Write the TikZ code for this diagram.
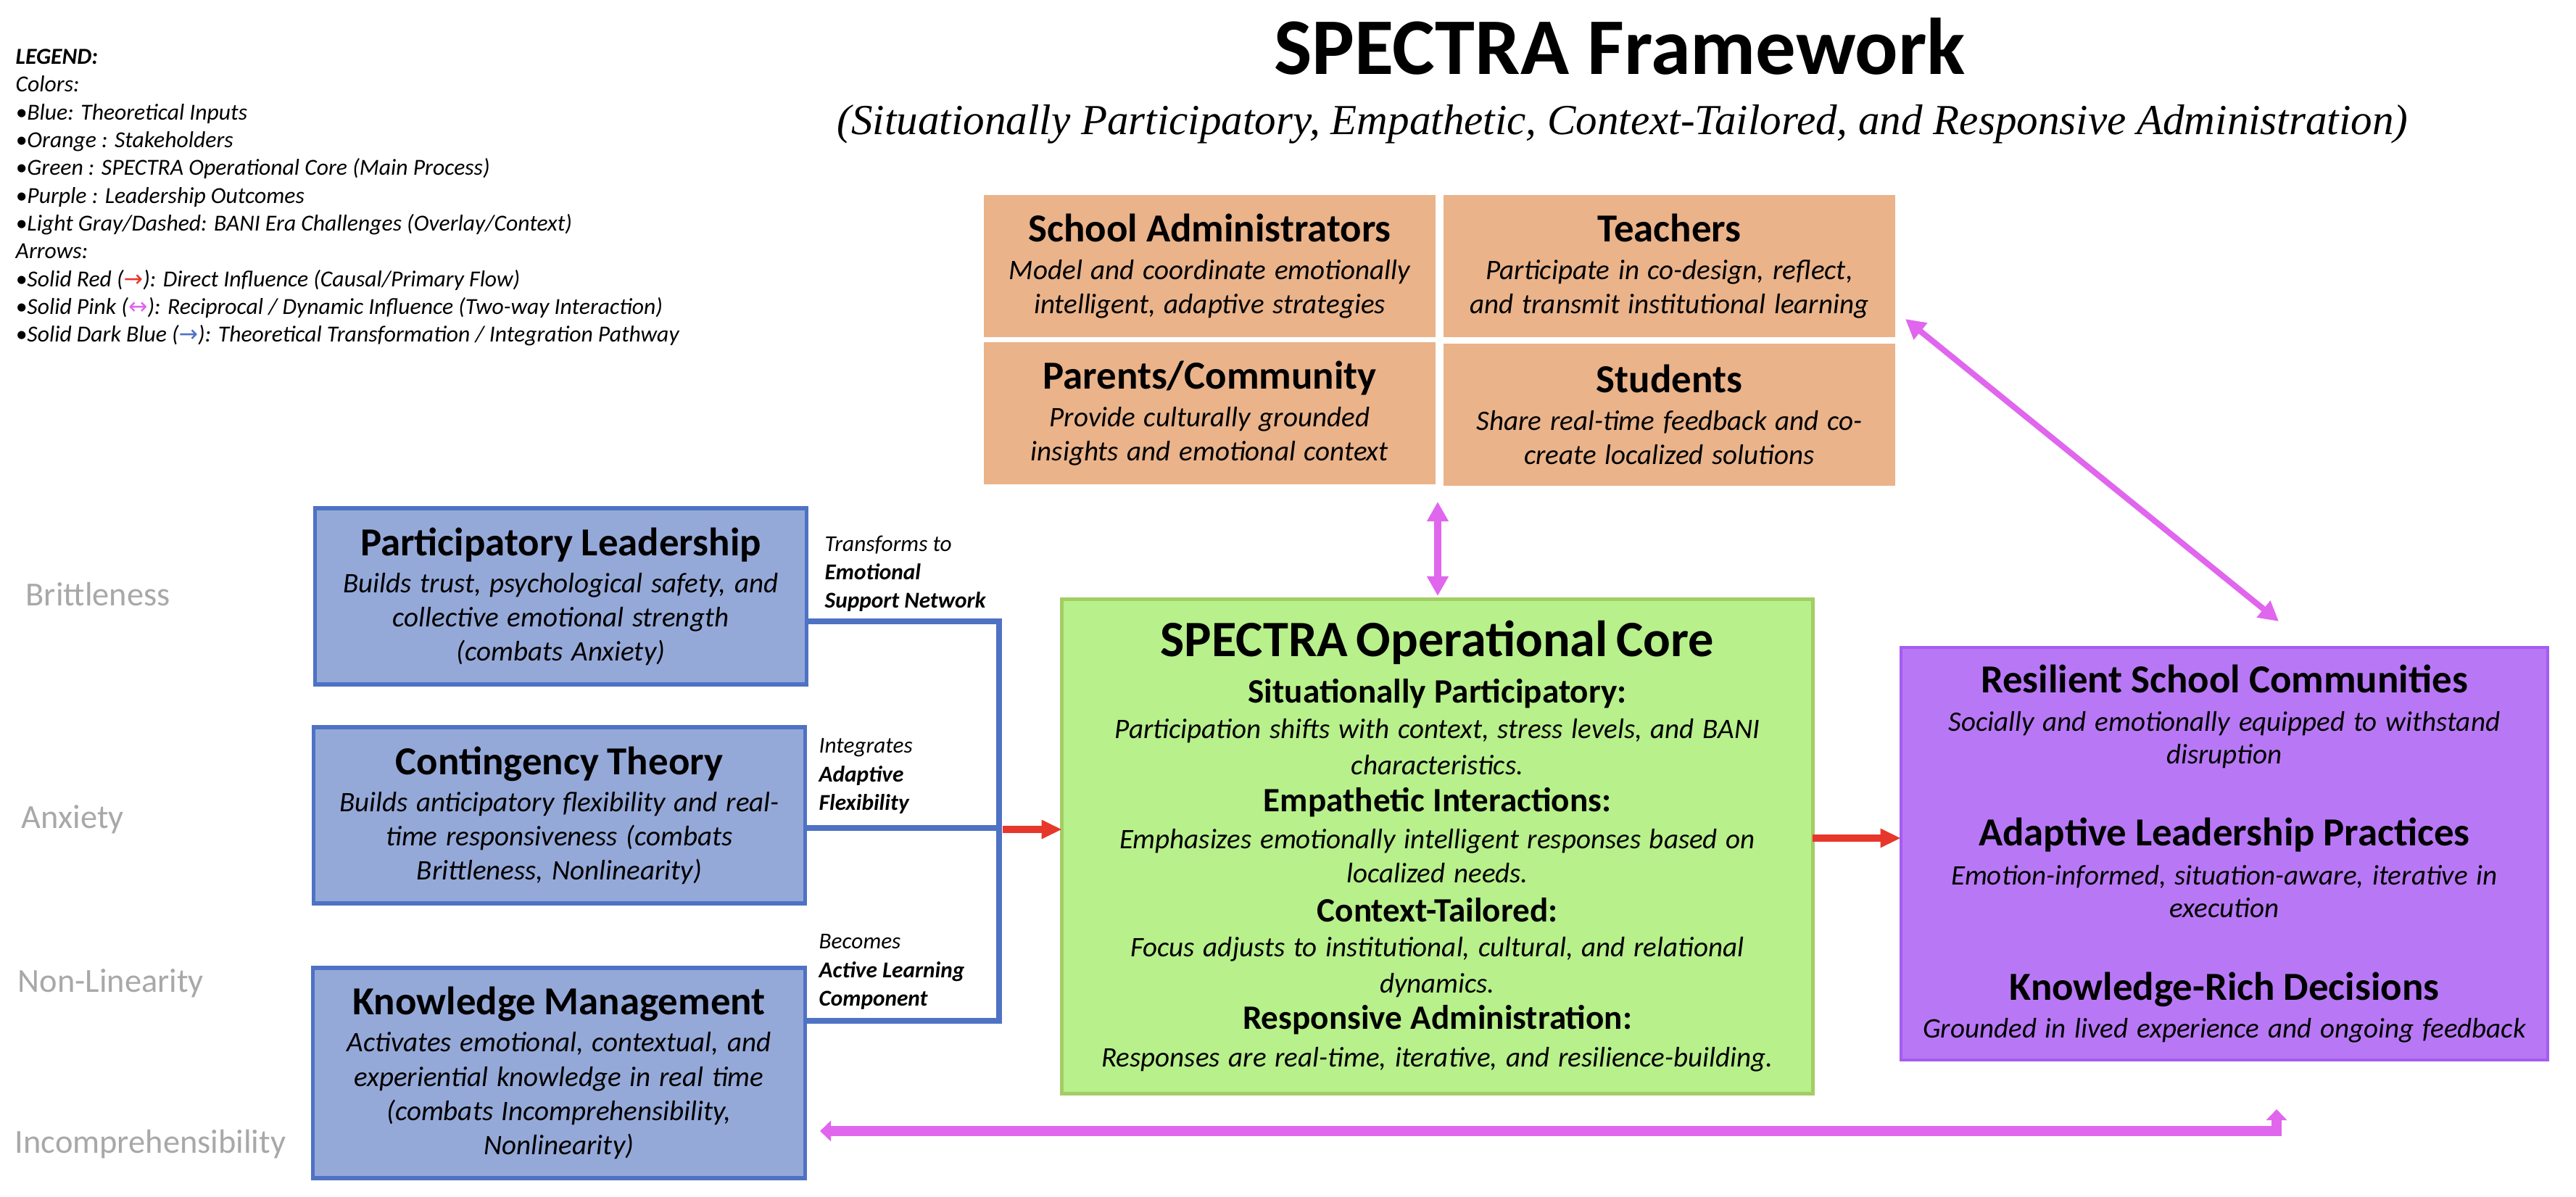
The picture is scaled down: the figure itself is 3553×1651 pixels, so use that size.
\documentclass[tikz,border=0pt]{standalone}
\usepackage{fontspec}
\setmainfont{Carlito}
\newfontfamily\subtfont{Liberation Serif}
\newfontfamily\symfont{DejaVu Sans}
\usetikzlibrary{arrows.meta}
\definecolor{orangeF}{HTML}{EAB38A}
\definecolor{blueF}{HTML}{95A9D9}
\definecolor{blueD}{HTML}{4E72C4}
\definecolor{greenF}{HTML}{B8F08B}
\definecolor{greenD}{HTML}{A3CD65}
\definecolor{purpF}{HTML}{B878F5}
\definecolor{purpD}{HTML}{A55CF2}
\definecolor{pinkA}{HTML}{E066EE}
\definecolor{redA}{HTML}{E7372B}
\definecolor{grayL}{HTML}{A8A8A8}
\newcommand\bxH[2]{{\fontsize{15.6pt}{#1pt}\selectfont\bfseries\mbox{#2}\par}}
\newcommand\bxD[2]{{\fontsize{11.1pt}{#1pt}\selectfont\itshape\mbox{#2}\par}}
\newcommand\bxS[2]{{\fontsize{13.4pt}{#1pt}\selectfont\bfseries\mbox{#2}\par}}
\newcommand\bxT[2]{{\fontsize{20pt}{#1pt}\selectfont\bfseries\mbox{#2}\par}}
\begin{document}
\begin{tikzpicture}[x=0.01cm,y=-0.01cm,
  box/.style={inner sep=0pt, outer sep=0pt, align=center,
    execute at begin node={\setlength{\parindent}{0pt}\setlength{\parskip}{0pt}}},
  obox/.style={box, fill=orangeF},
  bbox/.style={box, fill=blueF, draw=blueD, line width=1.5pt},
  gbox/.style={box, fill=greenF, draw=greenD, line width=1.4pt},
  pbox/.style={box, fill=purpF, draw=purpD, line width=1.1pt},
  bline/.style={draw=blueD, line width=2.3pt},
  redarr/.style={draw=redA, line width=2.8pt, -{Triangle[length=8pt,width=7pt]}},
  pinkarr/.style={draw=pinkA, line width=2.6pt, {Triangle[length=7.7pt,width=8pt]}-{Triangle[length=7.7pt,width=8pt]}},
  pinkwide/.style={draw=pinkA, line width=4pt, {Triangle[length=4.3pt,width=8pt]}-{Triangle[length=4.3pt,width=8pt]}},
  bani/.style={text=grayL, font=\fontsize{13.2pt}{16pt}\selectfont, anchor=base west, inner sep=0pt},
  lab/.style={font=\fontsize{8.9pt}{11.2pt}\selectfont\itshape, align=left, anchor=north west, inner sep=0pt},
]
\useasboundingbox (0,0) rectangle (3553,1651);
\fill[white] (0,0) rectangle (3553,1651);

% legend
\node[anchor=north west, align=left, inner sep=0pt, font=\fontsize{9pt}{10.9pt}\selectfont\itshape] (legend) at (21,67)
{\textbf{LEGEND:}\\
Colors:\\
•Blue: Theoretical Inputs\\
•Orange : Stakeholders\\
•Green : SPECTRA Operational Core (Main Process)\\
•Purple : Leadership Outcomes\\
•Light Gray/Dashed: BANI Era Challenges (Overlay/Context)\\
Arrows:\\
•Solid Red ({\symfont\textcolor{redA}{→}}): Direct Influence (Causal/Primary Flow)\\
•Solid Pink ({\symfont\textcolor{pinkA}{↔}}): Reciprocal / Dynamic Influence (Two-way Interaction)\\
•Solid Dark Blue ({\symfont\textcolor{blueD}{→}}): Theoretical Transformation / Integration Pathway};

% title
\node[anchor=base, inner sep=0pt, font=\fontsize{31.5pt}{36pt}\selectfont\bfseries] (title) at (2234,102) {SPECTRA Framework};
\node[anchor=base, inner sep=0pt, font=\subtfont\fontsize{16.8pt}{20pt}\selectfont\itshape] (subtitle) at (2238,185)
{(Situationally Participatory, Empathetic, Context-Tailored, and Responsive Administration)};

% stakeholders
\node[obox, minimum width=6.23cm, minimum height=1.95cm, text width=6.1cm] (sa) at (1668.5,367)
{\bxH{19}{School Administrators}\bxD{14.8}{Model and coordinate emotionally}\bxD{13.4}{intelligent, adaptive strategies}};
\node[obox, minimum width=6.23cm, minimum height=1.95cm, text width=6.1cm] (te) at (2302.5,367)
{\bxH{19}{Teachers}\bxD{14.8}{Participate in co-design, reflect,}\bxD{13.4}{and transmit institutional learning}};
\node[obox, minimum width=6.23cm, minimum height=1.95cm, text width=6.1cm] (pc) at (1668.5,570)
{\bxH{19}{Parents/Community}\bxD{14.8}{Provide culturally grounded}\bxD{13.4}{insights and emotional context}};
\node[obox, minimum width=6.23cm, minimum height=1.95cm, text width=6.1cm] (st) at (2302.5,572)
{\bxH{19}{Students}\bxD{14.8}{Share real-time feedback and co-}\bxD{13.4}{create localized solutions}};

% theoretical inputs
\node[bbox, minimum width=6.77cm, minimum height=2.43cm, text width=6.6cm] (pl) at (773.5,822.5)
{\bxH{19}{Participatory Leadership}\bxD{14.5}{Builds trust, psychological safety, and}\bxD{13.4}{collective emotional strength}\bxD{13.4}{(combats Anxiety)}};
\node[bbox, minimum width=6.77cm, minimum height=2.43cm, text width=6.6cm] (ct) at (771.5,1124.5)
{\bxH{19}{Contingency Theory}\bxD{14.5}{Builds anticipatory flexibility and real-}\bxD{13.4}{time responsiveness (combats}\bxD{13.4}{Brittleness, Nonlinearity)}};
\node[bbox, minimum width=6.78cm, minimum height=2.9cm, text width=6.6cm] (km) at (771,1480)
{\bxH{19}{Knowledge Management}\bxD{14.5}{Activates emotional, contextual, and}\bxD{13.4}{experiential knowledge in real time}\bxD{13.4}{(combats Incomprehensibility,}\bxD{13.4}{Nonlinearity)}};

% BANI labels
\node[bani] (b1) at (35,835) {Brittleness};
\node[bani] (b2) at (29,1142) {Anxiety};
\node[bani] (b3) at (24,1368) {Non-Linearity};
\node[bani] (b4) at (20,1590) {Incomprehensibility};

% core
\node[gbox, minimum width=10.35cm, minimum height=6.81cm, text width=10.2cm] (core) at (1982.5,1167.5)
{\bxT{20}{SPECTRA Operational Core}%
\bxS{18.2}{Situationally Participatory:}%
\bxD{13.8}{Participation shifts with context, stress levels, and BANI}%
\bxD{14.3}{characteristics.}%
\bxS{14.5}{Empathetic Interactions:}%
\bxD{14.6}{Emphasizes emotionally intelligent responses based on}%
\bxD{13.3}{localized needs.}%
\bxS{15.2}{Context-Tailored:}%
\bxD{13.6}{Focus adjusts to institutional, cultural, and relational}%
\bxD{14.3}{dynamics.}%
\bxS{14.4}{Responsive Administration:}%
\bxD{14.8}{Responses are real-time, iterative, and resilience-building.}};

% outcomes
\node[pbox, minimum width=8.92cm, minimum height=5.69cm, text width=8.8cm] (out) at (3068,1177.5)
{\bxH{19}{Resilient School Communities}%
\bxD{15.1}{Socially and emotionally equipped to withstand}%
\bxD{12.8}{disruption}%
\bxH{31.9}{Adaptive Leadership Practices}%
\bxD{15.6}{Emotion-informed, situation-aware, iterative in}%
\bxD{12.8}{execution}%
\bxH{32.2}{Knowledge-Rich Decisions}%
\bxD{14.8}{Grounded in lived experience and ongoing feedback}};

% blue integration pathway
\coordinate (j1) at (1378,857);
\coordinate (j2) at (1378,1142);
\coordinate (j3) at (1378,1408);
\draw[bline] (pl.east |- j1) -- (j1) -- (j3) -- (km.east |- j3);
\draw[bline] (ct.east |- j2) -- (j2);

\node[lab] (lab1) at (1137,738) {Transforms to\\\textbf{Emotional}\\\textbf{Support Network}};
\node[lab] (lab2) at (1129,1018) {Integrates\\\textbf{Adaptive}\\\textbf{Flexibility}};
\node[lab] (lab3) at (1129,1288) {Becomes\\\textbf{Active Learning}\\\textbf{Component}};

% red arrows
\coordinate (r1) at (1383,1144);
\draw[redarr] (r1) -- (core.west |- r1);
\coordinate (r2) at (2560,1156);
\draw[redarr] (core.east |- r2) -- (out.west |- r2);

% pink arrows
\coordinate (pvA) at (1983,692);
\coordinate (pvB) at (1983,822);
\draw[pinkarr] (pvA) -- (pvB);
\coordinate (dgA) at (2628,440);
\coordinate (dgB) at (3143,857);
\draw[pinkarr, line width=2.3pt] (dgA) -- (dgB);
\coordinate (pkL) at (1131,1560);
\coordinate (pkC) at (3140,1560);
\coordinate (pkR) at (3140,1530);
\draw[pinkwide] (pkL) -- (pkC) -- (pkR);
\end{tikzpicture}
\end{document}
